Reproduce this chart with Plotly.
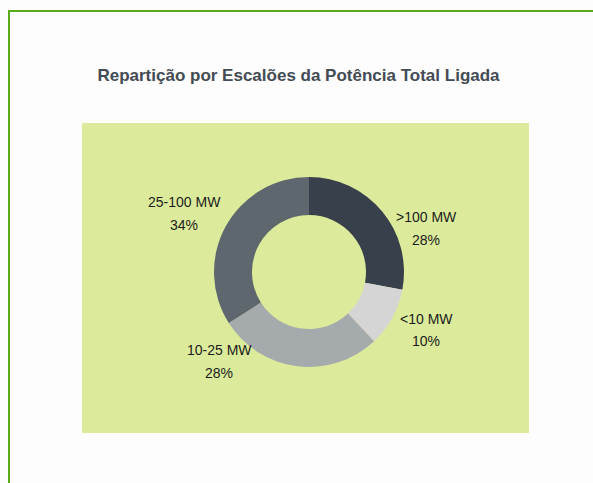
import plotly.graph_objects as go

labels = [">100 MW", "<10 MW", "10-25 MW", "25-100 MW"]
values = [28, 10, 28, 34]
colors = ["#38414b", "#d4d5d4", "#a5aaad", "#5e676e"]

W, H = 593, 483
L, R, T, B = 82, 593 - 529, 123, 483 - 433
pw, ph = W - L - R, H - T - B


def px_x(x):
    return (x - L) / pw


def px_y(y):
    return 1 - (y - T) / ph


cx, cy, rad = 309, 272, 95
dom_x = [px_x(cx - rad), px_x(cx + rad)]
dom_y = [px_y(cy + rad), px_y(cy - rad)]

fig = go.Figure(go.Pie(
    labels=labels, values=values, sort=False, direction="clockwise", rotation=0,
    hole=0.6, marker=dict(colors=colors, line=dict(width=0)),
    textinfo="none",
    domain=dict(x=dom_x, y=dom_y), showlegend=False, hoverinfo="label+percent",
))

# label anchor positions (page pixels): (x, y of name line, y of percent line)
label_pos = [(426, 217, 240), (426, 319, 341), (219, 350, 373), (184, 202, 225)]
total = sum(values)
lab_font = dict(family="Liberation Sans", size=14, color="#1c1c1c")
for lab, v, (x, y1, y2) in zip(labels, values, label_pos):
    fig.add_annotation(text=lab, x=px_x(x), y=px_y(y1), xref="paper", yref="paper",
                       showarrow=False, xanchor="center", yanchor="middle", font=lab_font)
    fig.add_annotation(text=f"{round(100 * v / total)}%", x=px_x(x), y=px_y(y2),
                       xref="paper", yref="paper", showarrow=False,
                       xanchor="center", yanchor="middle", font=lab_font)

fig.add_shape(type="rect", xref="paper", yref="paper", x0=0, x1=1, y0=0, y1=1,
              fillcolor="#dbeb9b", line=dict(width=0), layer="below")
fig.add_shape(type="line", xref="paper", yref="paper", x0=px_x(8), x1=px_x(620),
              y0=px_y(11), y1=px_y(11), line=dict(color="#5aab1c", width=2))
fig.add_shape(type="line", xref="paper", yref="paper", x0=px_x(9), x1=px_x(9),
              y0=px_y(10), y1=px_y(620), line=dict(color="#5aab1c", width=2))

fig.update_layout(
    width=W, height=H, margin=dict(l=L, r=R, t=T, b=B),
    paper_bgcolor="#fdfdfd",
    title=dict(text="<b>Repartição por Escalões da Potência Total Ligada</b>",
               x=298.5 / W, xanchor="center", y=1 - 75 / H,
               yanchor="middle", yref="container", xref="container",
               font=dict(family="Liberation Sans", size=17, color="#434b54")),
)
fig.write_html(
    "out.html",
    config={"displayModeBar": False},
    post_script="document.body.style.margin='0';document.body.style.overflow='hidden';",
)
